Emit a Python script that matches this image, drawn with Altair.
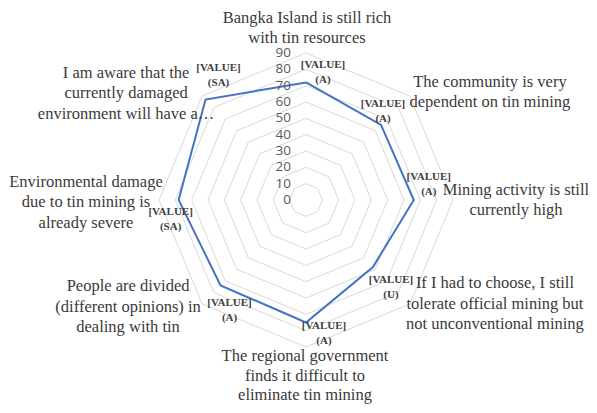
import altair as alt
import pandas as pd

# ---- data ----
categories = [
    "Bangka Island is still rich\nwith tin resources",
    "The community is very\ndependent on tin mining",
    "Mining activity is still\ncurrently high",
    "If I had to choose, I still\ntolerate official mining but\nnot unconventional mining",
    "The regional government\nfinds it difficult to\neliminate tin mining",
    "People are divided\n(different opinions) in\ndealing with tin",
    "Environmental damage\ndue to tin mining is\nalready severe",
    "I am aware that the\ncurrently damaged\nenvironment will have a…",
]
values = [72, 65, 66, 58, 75, 74, 78, 87]
codes = ["(A)", "(A)", "(A)", "(U)", "(A)", "(A)", "(SA)", "(SA)"]
ticks = [0, 10, 20, 30, 40, 50, 60, 70, 80, 90]
r_max = 90

# ---- styling / layout (not data) ----
K = 1.633  # px per unit
W, H = 581, 397
CX, CY = 298, 192
xdom = [-CX / K, (W - CX) / K]
ydom = [-(H - CY) / K, CY / K]
# block-centre offsets from the outer grid vertex, and line heights
cat_offsets = [(1, -25), (80, -4), (63, 0), (85, 0), (-1, 29), (-74, 3), (-73, 2), (-76, -3)]
cat_lh = [20.5, 20.5, 20.5, 20.5, 19.5, 20.5, 20.5, 20.5]
# block-centre offsets from the data vertex
val_offsets = [(17, -10), (2, -13), (15, -16), (18, 21), (18, 11), (9, 25), (-8, 19), (13, -24)]
val_lh = 15

n = len(categories)
X = alt.X("px:Q", scale=alt.Scale(domain=xdom, nice=False, zero=False), axis=None)
Y = alt.Y("py:Q", scale=alt.Scale(domain=ydom, nice=False, zero=False), axis=None)
pos_calc = dict(
    px=f"datum.r * sin(2 * PI * datum.idx / {n})",
    py=f"datum.r * cos(2 * PI * datum.idx / {n})",
)

grid_df = pd.DataFrame(
    [{"level": t, "idx": i, "r": t} for t in ticks if t > 0 for i in range(n + 1)]
)
grid = (
    alt.Chart(grid_df)
    .transform_calculate(**pos_calc)
    .mark_line(color="#d9d9d9", strokeWidth=1)
    .encode(x=X, y=Y, detail="level:N", order="idx:Q")
)

line_df = pd.DataFrame(
    {"idx": list(range(n + 1)), "r": values + [values[0]]}
)
series = (
    alt.Chart(line_df)
    .transform_calculate(**pos_calc)
    .mark_line(color="#4472C4", strokeWidth=2)
    .encode(x=X, y=Y, order="idx:Q")
)

tick_df = pd.DataFrame({"r": ticks, "idx": [0] * len(ticks), "label": [str(t) for t in ticks]})
tick_text = (
    alt.Chart(tick_df)
    .transform_calculate(**pos_calc)
    .mark_text(align="right", baseline="middle", dx=-15, fontSize=13.5,
               font="Open Sans", color="#595959")
    .encode(x=X, y=Y, text="label:N")
)

cat_df = pd.DataFrame({"idx": list(range(n)), "r": [r_max] * n, "label": categories})
val_df = pd.DataFrame({
    "idx": list(range(n)),
    "r": values,
    "label": ["[VALUE]\n" + c for c in codes],
})

layers = [grid, series, tick_text]
for i in range(n):
    dx, dy = cat_offsets[i]
    nl = categories[i].count("\n") + 1
    lh = cat_lh[i]
    layers.append(
        alt.Chart(cat_df)
        .transform_filter(f"datum.idx == {i}")
        .transform_calculate(**pos_calc)
        .mark_text(align="center", baseline="middle", dx=dx, dy=dy - (nl - 1) / 2 * lh,
                   fontSize=16.5, lineHeight=lh, lineBreak="\n", font="Liberation Serif",
                   color="#3a3a3a")
        .encode(x=X, y=Y, text="label:N")
    )
    vdx, vdy = val_offsets[i]
    layers.append(
        alt.Chart(val_df)
        .transform_filter(f"datum.idx == {i}")
        .transform_calculate(**pos_calc)
        .mark_text(align="center", baseline="middle", dx=vdx, dy=vdy - val_lh / 2, fontSize=11,
                   lineHeight=val_lh, lineBreak="\n", font="Liberation Serif",
                   fontWeight="bold", color="#404040")
        .encode(x=X, y=Y, text="label:N")
    )

chart = (
    alt.layer(*layers)
    .properties(width=W, height=H, padding=0, autosize=alt.AutoSizeParams(type="none"))
    .configure_view(stroke=None)
)

chart.save("out.html", embed_options={"renderer": "svg", "actions": False})
